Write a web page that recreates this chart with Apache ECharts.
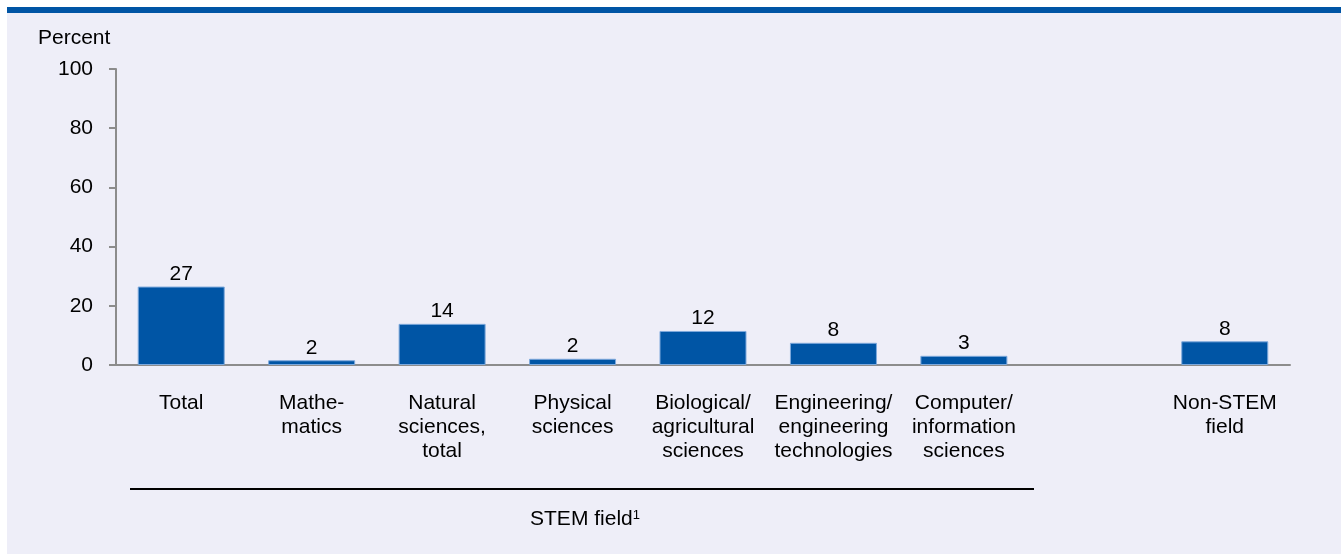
<!DOCTYPE html>
<html>
<head>
<meta charset="utf-8">
<script src="https://cdn.jsdelivr.net/npm/echarts@6/dist/echarts.min.js"></script>
<style>
html,body{margin:0;padding:0;background:#ffffff;}
#chart{width:1341px;height:554px;}
</style>
</head>
<body>
<div id="chart"></div>
<script>
var categories = ['Total', 'Mathe-\nmatics', 'Natural\nsciences,\ntotal', 'Physical\nsciences', 'Biological/\nagricultural\nsciences', 'Engineering/\nengineering\ntechnologies', 'Computer/\ninformation\nsciences', '', 'Non-STEM\nfield'];
var values = [26.5, 1.6, 13.9, 2.1, 11.5, 7.5, 3.1, null, 8.0];
var yTicks = [0, 20, 40, 60, 80, 100];
var groupLabel = 'STEM field';
var groupNote = '1';
var yTitle = 'Percent';

var FONT = '"Liberation Sans", Arial, sans-serif';
var FS = 21;
var chart = echarts.init(document.getElementById('chart'), null, {renderer: 'canvas'});
chart.setOption({
  backgroundColor: '#ffffff',
  animation: false,
  textStyle: {fontFamily: FONT},
  graphic: [
    {type: 'rect', z: -10, shape: {x: 7, y: 13, width: 1334, height: 541}, style: {fill: '#eeeef8'}},
    {type: 'rect', z: -9, shape: {x: 7, y: 7, width: 1334, height: 6}, style: {fill: '#0055a5'}},
    {type: 'text', left: 38, top: 28, style: {text: yTitle, font: FS + 'px ' + FONT, fill: '#000'}},
    {type: 'line', shape: {x1: 130, y1: 489, x2: 1034, y2: 489}, style: {stroke: '#000', lineWidth: 2}},
    {type: 'text', x: 585, y: 518, style: {
      text: '{m|' + groupLabel + '}{s|' + groupNote + '}',
      textAlign: 'center', textVerticalAlign: 'middle',
      rich: {
        m: {fontSize: FS, fontFamily: FONT, fill: '#000', color: '#000', verticalAlign: 'bottom', lineHeight: 24},
        s: {fontSize: 13, fontFamily: FONT, fill: '#000', color: '#000', verticalAlign: 'top', lineHeight: 24, padding: [3, 0, 0, 0]}
      }
    }}
  ],
  grid: {left: 116, right: 51, top: 69, bottom: 189, containLabel: false},
  xAxis: {
    type: 'category',
    data: categories,
    axisLine: {show: true, lineStyle: {color: '#8c8c8c', width: 2}},
    axisTick: {show: false},
    axisLabel: {color: '#000', fontSize: FS, lineHeight: 24, margin: 26, interval: 0, fontFamily: FONT}
  },
  yAxis: {
    type: 'value',
    min: 0, max: 100, interval: 20,
    splitLine: {show: false},
    axisLine: {show: true, lineStyle: {color: '#8c8c8c', width: 2}},
    axisTick: {show: true, inside: false, length: 7, lineStyle: {color: '#8c8c8c', width: 2}},
    axisLabel: {color: '#000', fontSize: FS, margin: 23, fontFamily: FONT,
      formatter: function (v) { return yTicks.indexOf(v) >= 0 ? String(v) : ''; }}
  },
  series: [{
    type: 'bar',
    data: values,
    barWidth: 87,
    itemStyle: {color: '#0055a5', borderColor: '#7ea9dc', borderWidth: 1},
    label: {show: true, position: 'top', distance: 2, color: '#000', fontSize: FS, fontFamily: FONT,
      formatter: function (p) { return p.value == null ? '' : String(Math.round(p.value)); }}
  }]
});
</script>
</body>
</html>
